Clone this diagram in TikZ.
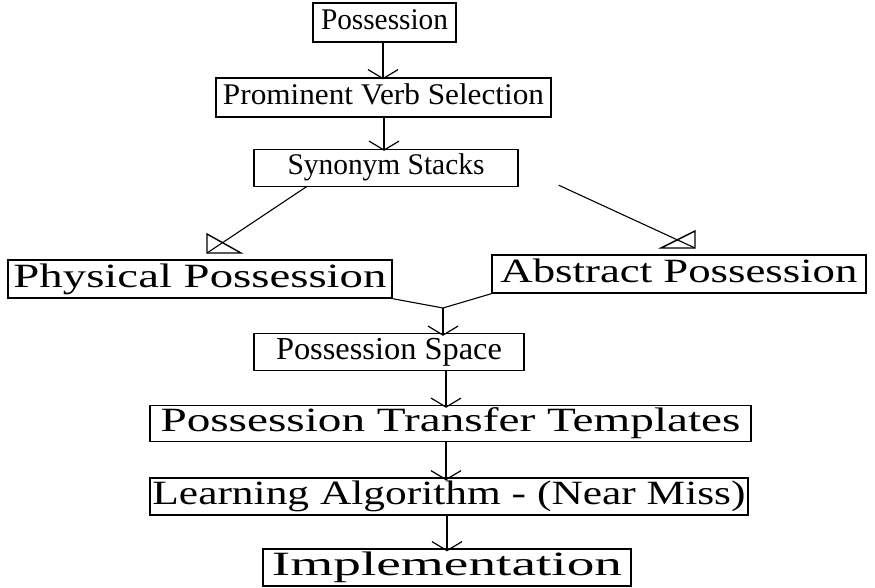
\documentclass[tikz,border=0pt]{standalone}
\usepackage{fontspec}
\setmainfont{Liberation Serif}
\usetikzlibrary{arrows.meta,calc}
\newcommand\tw[2]{\resizebox{#1pt}{\height}{#2}}
\tikzset{
  box/.style={draw, line width=1.4pt, inner sep=0pt, text height=23pt, text depth=7pt,
    font=\fontsize{34}{34}\selectfont},
  small/.style={font=\fontsize{30}{30}\selectfont, text height=21pt, text depth=7pt},
  mid/.style={font=\fontsize{32}{32}\selectfont, text height=22pt, text depth=7pt},
  arr/.style={line width=1.2pt, -{Straight Barb[length=9pt,width=30pt,line width=1.2pt]}},
  conn/.style={line width=1.1pt},
  tri/.style={line width=1.4pt, line join=miter}
}
\begin{document}
\begin{tikzpicture}[x=1pt,y=-1pt]
\useasboundingbox (0,0) rectangle (875,588);
\node[box, small, minimum width=143pt, minimum height=39pt] (poss)  at (384.5,22.5) {\tw{127}{Possession}};
\node[box, small, minimum width=335pt, minimum height=39pt] (pvs)   at (383.5,97.5) {\tw{321}{Prominent Verb Selection}};
\node[box, small, minimum width=264pt, minimum height=37pt] (syn)   at (386,168) {\tw{197}{Synonym Stacks}};
\node[box, minimum width=384pt, minimum height=38pt] (phys)  at (200,279) {\tw{373}{Physical Possession}};
\node[box, minimum width=374pt, minimum height=38pt] (abs)   at (679,274) {\tw{357}{Abstract Possession}};
\node[box, mid, minimum width=270pt, minimum height=37pt] (space) at (389,352) {\tw{226}{Possession Space}};
\node[box, minimum width=601pt, minimum height=36pt] (ptt)   at (450.5,423.5) {\tw{580}{Possession Transfer Templates}};
\node[box, minimum width=598pt, minimum height=37pt] (learn) at (449,496.5) {\tw{593}{Learning Algorithm - (Near Miss)}};
\node[box, minimum width=368pt, minimum height=37pt] (impl)  at (447,567.5) {\tw{350}{Implementation}};

% straight arrows
\coordinate (a1) at (383,0);
\coordinate (a2) at (384,0);
\coordinate (a3) at (446,0);
\coordinate (a4) at (446,0);
\coordinate (a5) at (447,0);
\draw[arr] (poss.south -| a1) -- ([yshift=-2pt]pvs.north -| a1);
\draw[arr] (pvs.south -| a2) -- ([yshift=-2pt]syn.north -| a2);
\draw[arr] (space.south -| a3) -- ([yshift=-3pt]ptt.north -| a3);
\draw[arr] (ptt.south -| a4) -- ([yshift=-3pt]learn.north -| a4);
\draw[arr] (learn.south -| a5) -- ([yshift=-3pt]impl.north -| a5);

% branches with triangle heads
\coordinate (lt) at (207,253);
\coordinate (rt) at (695,248);
\draw[conn] ([xshift=54pt,yshift=1pt]syn.south west) -- (lt);
\draw[tri] (lt) -- ++(0,-19) -- ++(34,19) -- cycle;
\draw[conn] ([xshift=40pt,yshift=2pt]syn.south east) -- (rt);
\draw[tri] (rt) -- ++(0,-17) -- ++(-34,17) -- cycle;

% merge
\coordinate (m) at (443,308);
\draw[conn] (phys.south east) -- (m) -- (abs.south west);
\draw[arr] (m) -- ([yshift=-3pt]space.north -| m);
\end{tikzpicture}
\end{document}
